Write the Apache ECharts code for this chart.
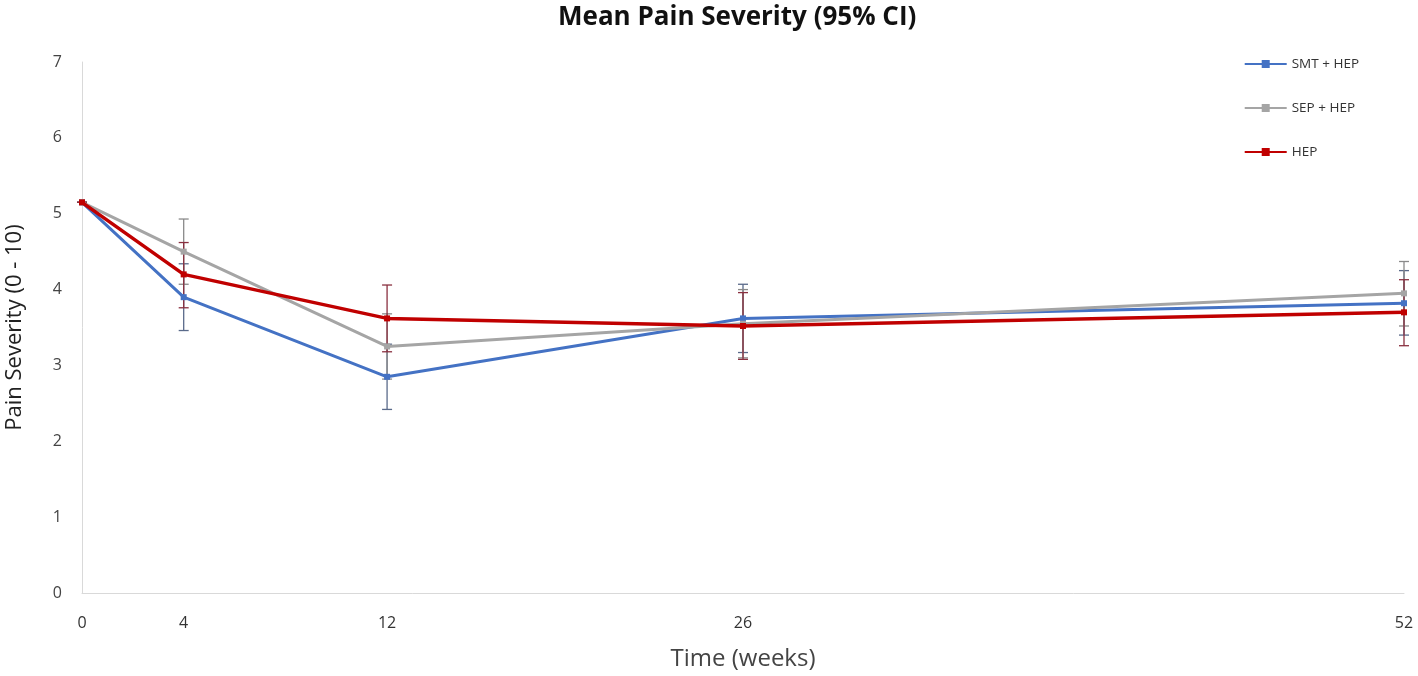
<!DOCTYPE html>
<html><head><meta charset="utf-8">
<script src="https://cdn.jsdelivr.net/npm/echarts@6/dist/echarts.min.js"></script>
<style>html,body{margin:0;padding:0;background:#fff}#c{width:1418px;height:676px}</style>
</head><body><div id="c"></div>
<script>
const weeks = [0, 4, 12, 26, 52];
const tickLabels = [0, 4, 12, 26, 52];
const smtMean = [5.15, 3.90, 2.85, 3.62, 3.82];
const smtLow  = [5.15, 3.46, 2.42, 3.17, 3.40];
const smtHigh = [5.15, 4.34, 3.28, 4.07, 4.25];
const sepMean = [5.15, 4.50, 3.25, 3.55, 3.95];
const sepLow  = [5.15, 4.07, 2.82, 3.10, 3.52];
const sepHigh = [5.15, 4.93, 3.68, 4.00, 4.37];
const hepMean = [5.15, 4.20, 3.62, 3.52, 3.70];
const hepLow  = [5.15, 3.76, 3.18, 3.08, 3.26];
const hepHigh = [5.15, 4.62, 4.06, 3.96, 4.13];
const names = ['SMT + HEP', 'SEP + HEP', 'HEP'];
const colors = ['#4472C4', '#A5A5A5', '#C00000'];
const barColors = ['#5a6a8a', '#8a8a8a', '#8a3040'];

const font = 'Open Sans';
function lineSeries(i, mean) {
  return {
    name: names[i], type: 'line', z: 3 + i,
    data: weeks.map((w, k) => [w, mean[k]]),
    symbol: 'rect', symbolSize: 6, showSymbol: true,
    lineStyle: { color: colors[i], width: i === 2 ? 3.5 : 3 },
    itemStyle: { color: colors[i] },
    emphasis: { disabled: true }
  };
}
function errSeries(i, low, high) {
  return {
    type: 'custom', z: 2, silent: true,
    data: weeks.map((w, k) => [w, low[k], high[k]]),
    renderItem: function (params, api) {
      const x = api.value(0);
      const lo = api.coord([x, api.value(1)]);
      const hi = api.coord([x, api.value(2)]);
      const cap = 5;
      const st = { stroke: barColors[i], lineWidth: 1.3 };
      return { type: 'group', children: [
        { type: 'line', shape: { x1: lo[0], y1: lo[1], x2: hi[0], y2: hi[1] }, style: st },
        { type: 'line', shape: { x1: lo[0] - cap, y1: lo[1], x2: lo[0] + cap, y2: lo[1] }, style: st },
        { type: 'line', shape: { x1: hi[0] - cap, y1: hi[1], x2: hi[0] + cap, y2: hi[1] }, style: st }
      ]};
    }
  };
}
const chart = echarts.init(document.getElementById('c'));
chart.setOption({
  animation: false,
  title: { text: 'Mean Pain Severity (95% CI)', left: 553, top: 0,
    textStyle: { fontFamily: font, fontSize: 26, fontWeight: 'bold', color: '#111' } },
  legend: {
    orient: 'vertical', right: 54, top: 52, itemGap: 30, itemWidth: 42, itemHeight: 10,
    data: names,
    textStyle: { fontFamily: font, fontSize: 13.5, color: '#333' }
  },
  grid: { left: 82, right: 14, top: 62, bottom: 83, outerBoundsMode: 'none' },
  xAxis: {
    type: 'value', min: 0, max: 52,
    name: 'Time (weeks)', nameLocation: 'middle', nameGap: 54,
    nameTextStyle: { fontFamily: font, fontSize: 24, color: '#444' },
    axisLine: { show: true, lineStyle: { color: '#d9d9d9', width: 1 } },
    axisTick: { show: false },
    splitLine: { show: false },
    axisLabel: { customValues: tickLabels, fontFamily: font, fontSize: 16, color: '#333', margin: 22 }
  },
  yAxis: {
    type: 'value', min: 0, max: 7, interval: 1,
    name: 'Pain Severity (0 - 10)', nameLocation: 'middle', nameGap: 56,
    nameTextStyle: { fontFamily: font, fontSize: 22, color: '#222' },
    axisLine: { show: true, lineStyle: { color: '#d9d9d9', width: 1 } },
    axisTick: { show: false },
    splitLine: { show: false },
    axisLabel: { fontFamily: font, fontSize: 16, color: '#444', margin: 20 }
  },
  series: [
    errSeries(0, smtLow, smtHigh), errSeries(1, sepLow, sepHigh), errSeries(2, hepLow, hepHigh),
    lineSeries(0, smtMean), lineSeries(1, sepMean), lineSeries(2, hepMean)
  ]
});
</script></body></html>
